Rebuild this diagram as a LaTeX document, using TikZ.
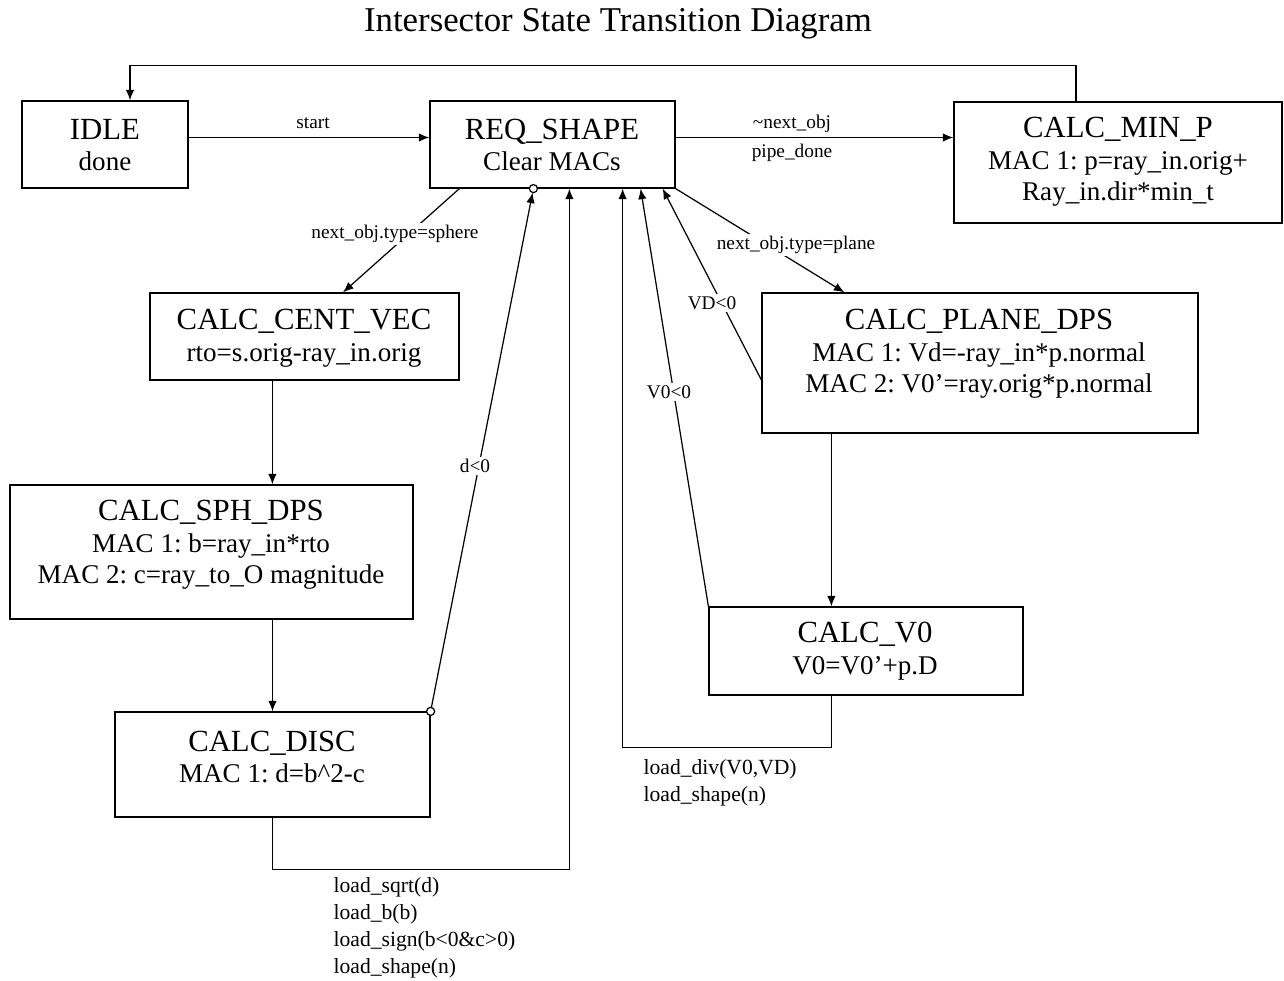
\documentclass[tikz,border=0pt]{standalone}
\usepackage{fontspec}
\setmainfont{Liberation Serif}
\usetikzlibrary{calc,arrows.meta}

\frenchspacing
\def\pxu{0.02cm}
\newcommand{\stname}[1]{{\fontsize{17.5}{18}\selectfont #1}}

\tikzset{
	state/.style 2 args={draw, inner sep=0pt, minimum width=#1*\pxu, minimum height=#2*\pxu},
	statetext/.style={align=center, inner sep=0pt, font=\fontsize{15.4}{18}\selectfont},
	guard/.style={fill=white, inner sep=1.5pt, font=\fontsize{11}{13}\selectfont},
	action/.style={align=left, anchor=north west, inner sep=0pt, font=\fontsize{12.3}{15.3}\selectfont},
	arr/.style={-{Latex[length=6pt,width=4.8pt]}}
}

\begin{document}
\begin{tikzpicture}[x=\pxu, y=-\pxu, line width=0.7pt]

	\useasboundingbox (0,0) rectangle (1284,980);

	% ---- title

	\node[font=\fontsize{19.8}{24}\selectfont] (title) at (618,24) {Intersector State Transition Diagram};

	% ---- states

	\node[state={166}{87}]  (idle)  at (105,144.5) {};
	\node[state={245}{87}]  (req)   at (552.5,144.5) {};
	\node[state={328}{121}] (minp)  at (1118,162.5) {};
	\node[state={309}{87}]  (cent)  at (304.5,336.5) {};
	\node[state={403}{134}] (sph)   at (211.5,552) {};
	\node[state={315}{105}] (disc)  at (272.5,764.5) {};
	\node[state={436}{140}] (plane) at (980,363) {};
	\node[state={314}{88}]  (vzero) at (866,651) {};

	% ---- state texts

	\node[statetext] (idle-t)  at (105,145)  {\stname{IDLE}\\done};
	\node[statetext] (req-t)   at (552,145)  {\stname{REQ\_SHAPE}\\Clear MACs};
	\node[statetext] (minp-t)  at (1118,162) {\stname{CALC\_MIN\_P}\\MAC 1: p=ray\_in.orig+\\Ray\_in.dir*min\_t};
	\node[statetext] (cent-t)  at (304,338)  {\stname{CALC\_CENT\_VEC}\\rto=s.orig-ray\_in.orig};
	\node[statetext] (sph-t)   at (211,545)  {\stname{CALC\_SPH\_DPS}\\MAC 1: b=ray\_in*rto\\MAC 2: c=ray\_to\_O magnitude};
	\node[statetext] (disc-t)  at (272,757)  {\stname{CALC\_DISC}\\MAC 1: d=b\textasciicircum 2-c};
	\node[statetext] (plane-t) at (979,354)  {\stname{CALC\_PLANE\_DPS}\\MAC 1: Vd=-ray\_in*p.normal\\MAC 2: V0’=ray.orig*p.normal};
	\node[statetext] (vzero-t) at (865,651)  {\stname{CALC\_V0}\\V0=V0’+p.D};

	% ---- return to idle

	\draw[arr] ($(minp.north)+(-42,0)$) -- ++(0,-36) -| ($(idle.north)+(25,0)$);

	% ---- top row

	\draw[arr] ($(idle.east)+(0,-7)$) -- ($(req.west)+(0,-7)$);
	\draw[arr] ($(req.east)+(0,-7)$) coordinate (r1) -- (r1 -| minp.west);

	% ---- sphere branch

	\draw[arr] ($(req.south west)+(30,0)$) -- ($(cent.north)+(38.5,0)$);
	\draw[arr] ($(cent.south west)+(123,0)$) coordinate (c1) -- (c1 |- sph.north);
	\draw[arr] (disc.north |- sph.south) -- (disc.north);
	\draw[arr, shorten >=2.3pt] (disc.north east) -- ($(req.south west)+(104,0)$) coordinate (d1);
	\draw[arr] (disc.south) -- ++(0,52) -| ($(req.south west)+(140,0)$);

	% ---- plane branch

	\draw[arr] (req.south east) -- ($(plane.north west)+(83,0)$);
	\draw[arr] ($(plane.south west)+(70,0)$) coordinate (p1) -- (p1 |- vzero.north);
	\draw[arr] ($(plane.west)+(0,17)$) -- ($(req.south east)+(-13,0)$);
	\draw[arr] (vzero.north west) -- ($(req.south east)+(-35,0)$);
	\draw[arr] ($(vzero.south west)+(123,0)$) -- ++(0,52) -| ($(req.south east)+(-53,0)$);

	% ---- open ends of d<0

	\draw[fill=white] (disc.north east) circle (2.3pt);
	\draw[fill=white] (d1) circle (2.3pt);

	% ---- transition labels

	\node[guard] (l-start)  at (313,123) {start};
	\node[guard] (l-nonext) at (792,124) {\textasciitilde next\_obj};
	\node[guard] (l-pipe)   at (792,153) {pipe\_done};
	\node[guard] (l-sphere) at (395,234) {next\_obj.type=sphere};
	\node[guard] (l-plane)  at (796,245) {next\_obj.type=plane};
	\node[guard] (l-vd)     at (712,303) {VD<0};
	\node[guard] (l-vz)     at (669,392) {V0<0};
	\node[guard] (l-d)      at (475,466) {d<0};

	% ---- actions

	\node[action] (a-disc)  at (333,877) {load\_sqrt(d)\\load\_b(b)\\load\_sign(b<0\&c>0)\\load\_shape(n)};
	\node[action] (a-vzero) at (643,759) {load\_div(V0,VD)\\load\_shape(n)};

\end{tikzpicture}
\end{document}
